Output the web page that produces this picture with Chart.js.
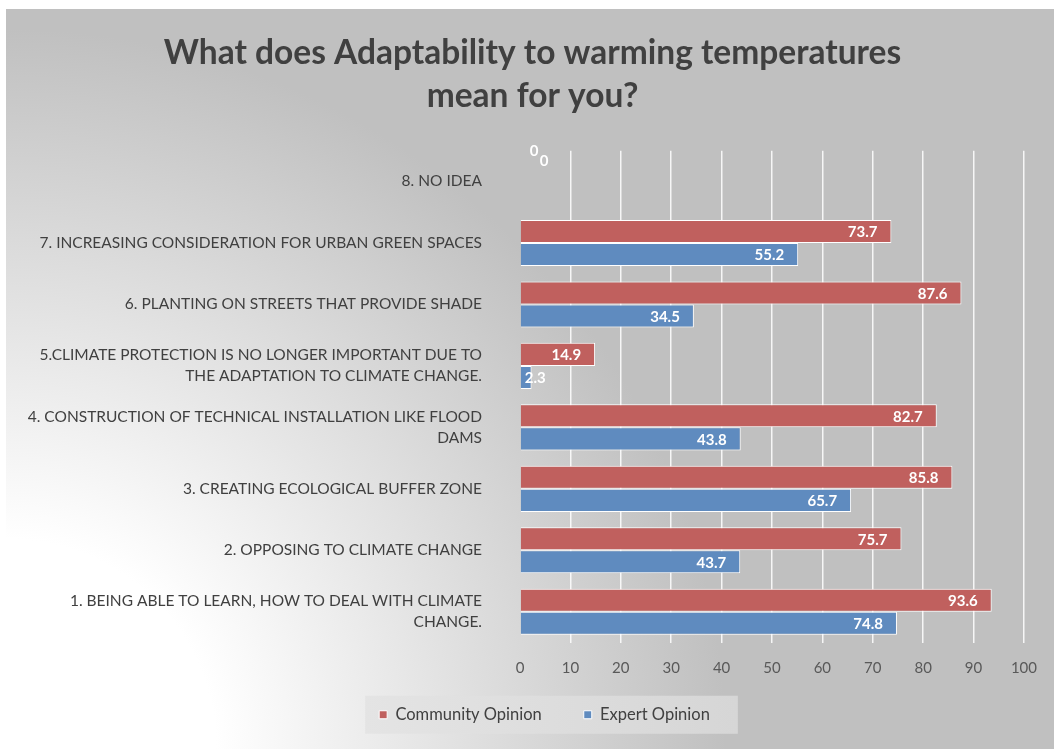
<!DOCTYPE html>
<html>
<head>
<meta charset="utf-8">
<script src="https://cdn.jsdelivr.net/npm/chart.js@4/dist/chart.umd.min.js"></script>
<style>
    body { margin: 0; background: #fff; }
    #wrap {
        position: absolute; left: 6px; top: 9px; width: 1048px; height: 740px;
        background: radial-gradient(circle at 0% 100%, #ffffff 0px, #ffffff 210px, #c0c0c0 720px);
    }
</style>
</head>
<body>
<div id="wrap"><canvas id="myChart" width="1048" height="740"></canvas></div>
<script>
// chart values, top category first
const categories = [
    '8. NO IDEA',
    '7. INCREASING CONSIDERATION FOR URBAN GREEN SPACES',
    '6. PLANTING ON STREETS THAT PROVIDE SHADE',
    ['5.CLIMATE PROTECTION IS NO LONGER IMPORTANT DUE TO', 'THE ADAPTATION TO CLIMATE CHANGE.'],
    ['4. CONSTRUCTION OF TECHNICAL INSTALLATION LIKE FLOOD', 'DAMS'],
    '3. CREATING ECOLOGICAL BUFFER ZONE',
    '2. OPPOSING TO CLIMATE CHANGE',
    ['1. BEING ABLE TO LEARN, HOW TO DEAL WITH CLIMATE', 'CHANGE.']
];
const communityOpinion = [0, 73.7, 87.6, 14.9, 82.7, 85.8, 75.7, 93.6];
const expertOpinion = [0, 55.2, 34.5, 2.3, 43.8, 65.7, 43.7, 74.8];
const seriesNames = ['Community Opinion', 'Expert Opinion'];
const xTicks = { min: 0, max: 100, step: 10 };

const FONT = 'Lato, "Open Sans", sans-serif';

// value labels inside the end of each bar
const valueLabels = {
    id: 'valueLabels',
    afterDatasetsDraw(chart) {
        const ctx = chart.ctx;
        ctx.save();
        ctx.fillStyle = '#ffffff';
        ctx.font = 'bold 15px ' + FONT;
        ctx.textBaseline = 'middle';
        chart.data.datasets.forEach(function (ds, i) {
            const meta = chart.getDatasetMeta(i);
            meta.data.forEach(function (bar, j) {
                const v = ds.data[j];
                if (v > 0) {
                    const txt = v.toFixed(1);
                    const w = ctx.measureText(txt).width;
                    if (bar.x - bar.base > w + 20) {
                        ctx.textAlign = 'right';
                        ctx.fillText(txt, bar.x - 14, bar.y + 1);
                    } else {
                        ctx.textAlign = 'left';
                        ctx.fillText(txt, bar.base + 4, bar.y + 1);
                    }
                } else {
                    // excel stacks the zero labels near the axis
                    ctx.textAlign = 'center';
                    ctx.fillText('0', bar.base + 14 + i * 10, bar.y - 19 - i * 13);
                }
            });
        });
        ctx.restore();
    }
};

// light panel behind the legend, legend nudged into place
const legendPanel = {
    id: 'legendPanel',
    afterLayout(chart) {
        const lg = chart.legend;
        if (!lg) return;
        lg.top -= 30;
        lg.bottom -= 30;
        lg.left += 12;
        lg.right += 12;
    },
    beforeDraw(chart) {
        const boxes = chart.legend && chart.legend.legendHitBoxes;
        if (!boxes || !boxes.length) return;
        let l = Infinity, r = -Infinity;
        boxes.forEach(function (b) {
            l = Math.min(l, b.left);
            r = Math.max(r, b.left + b.width);
        });
        const cy = boxes[0].top + boxes[0].height / 2;
        const ctx = chart.ctx;
        const g = ctx.createLinearGradient(l - 14, 0, r + 28, 0);
        g.addColorStop(0, '#e4e4e4');
        g.addColorStop(1, '#d6d6d6');
        ctx.save();
        ctx.fillStyle = g;
        ctx.fillRect(l - 14, cy - 19, r - l + 42, 38);
        ctx.restore();
    }
};

const data = {
    labels: categories,
    datasets: [{
        label: seriesNames[0],
        data: communityOpinion,
        backgroundColor: '#c0605e',
        borderColor: '#ffffff',
        borderWidth: 1
    }, {
        label: seriesNames[1],
        data: expertOpinion,
        backgroundColor: '#5f8bbf',
        borderColor: '#ffffff',
        borderWidth: 1
    }]
};

const config = {
    type: 'bar',
    data: data,
    plugins: [legendPanel, valueLabels],
    options: {
        indexAxis: 'y',
        responsive: false,
        animation: false,
        datasets: {
            bar: { categoryPercentage: 0.75, barPercentage: 1 }
        },
        layout: { padding: { left: 10, right: 5, top: 0, bottom: -14 } },
        scales: {
            x: {
                min: xTicks.min,
                max: xTicks.max,
                ticks: {
                    stepSize: xTicks.step,
                    padding: 17,
                    color: '#595959',
                    font: { family: FONT, size: 15 }
                },
                grid: {
                    drawTicks: false,
                    lineWidth: 1.5,
                    color: function (c) {
                        return c.index === 0 ? 'rgba(0,0,0,0)' : 'rgba(255,255,255,0.85)';
                    }
                },
                border: { display: false }
            },
            y: {
                afterFit: function (scale) { scale.width = 504; },
                ticks: {
                    padding: 30,
                    color: '#404040',
                    font: { family: FONT, size: 15.5, lineHeight: 1.35 }
                },
                grid: { display: false },
                border: { display: false }
            }
        },
        plugins: {
            title: {
                display: true,
                text: ['What does Adaptability to warming temperatures', 'mean for you?'],
                color: '#404040',
                font: { family: FONT, size: 33.5, weight: 'bold', lineHeight: 1.28 },
                padding: { top: 23, bottom: 33 }
            },
            legend: {
                position: 'bottom',
                labels: {
                    boxWidth: 8,
                    boxHeight: 8,
                    padding: 42,
                    color: '#404040',
                    font: { family: FONT, size: 16.5 }
                }
            },
            tooltip: { enabled: false }
        }
    }
};

const myChart = new Chart(document.getElementById('myChart').getContext('2d'), config);
</script>
</body>
</html>
